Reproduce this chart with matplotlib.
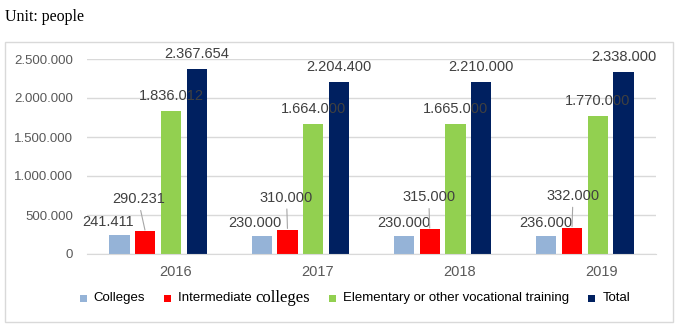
import numpy as np
import matplotlib.pyplot as plt
from matplotlib.patches import Rectangle

plt.rcParams['font.family'] = ['Liberation Sans', 'DejaVu Sans']

# ---------- data ----------
years = ['2016', '2017', '2018', '2019']
colleges = [241411, 230000, 230000, 236000]
intermediate = [290231, 310000, 315000, 332000]
elementary = [1836012, 1664000, 1665000, 1770000]
total = [2367654, 2204400, 2210000, 2338000]
yticks = [0, 500000, 1000000, 1500000, 2000000, 2500000]

series = [colleges, intermediate, elementary, total]
colors = ['#95B3D7', '#FF0000', '#92D050', '#002060']

# label offsets (pixels) -- layout only
col_dx = [-11, -7, 0, 0]
red_dx = [-7, -1, -1, 1]


def fmt(v):
    return f'{v:,}'.replace(',', '.')


W, H = 681, 327
fig = plt.figure(figsize=(W / 100, H / 100), dpi=100)
ax = fig.add_axes([87 / W, 1 - 254 / H, (656 - 87) / W, (254 - 59) / H])

x = np.arange(len(years))
step, width = 0.181, 0.141
bars = []
for i, (vals, c) in enumerate(zip(series, colors)):
    b = ax.bar(x + (i - 1.5) * step, vals, width=width, color=c, zorder=3)
    bars.append(b)

ax.set_xlim(-0.5, 3.5)
ax.set_ylim(0, 2500000)
ax.set_yticks(yticks)
ax.set_yticklabels([fmt(v) for v in yticks])
ax.set_xticks(x + 0.12)
ax.set_xticklabels(years)
ax.tick_params(axis='y', length=0, pad=10, labelsize=9.5, labelcolor='#595959')
ax.tick_params(axis='x', length=0, pad=8, labelsize=10.5, labelcolor='#595959')
ax.grid(axis='y', color='#d9d9d9', linewidth=1, zorder=0)
for s in ['top', 'right', 'left']:
    ax.spines[s].set_visible(False)
ax.spines['bottom'].set_color('#d9d9d9')
ax.spines['bottom'].set_zorder(4)

lab_kw = dict(textcoords='offset pixels', ha='center', va='center',
              fontsize=10.5, color='#404040', annotation_clip=False, zorder=5)
for j in range(len(years)):
    # colleges
    r = bars[0][j]
    ax.annotate(fmt(colleges[j]), (r.get_x() + r.get_width() / 2, r.get_height()),
                xytext=(col_dx[j], 13), **lab_kw)
    # intermediate with leader line
    r = bars[1][j]
    ax.annotate(fmt(intermediate[j]), (r.get_x() + r.get_width() / 2, r.get_height()),
                xytext=(red_dx[j], 32),
                arrowprops=dict(arrowstyle='-', color='#a6a6a6', lw=0.8,
                                shrinkA=1, shrinkB=1), **lab_kw)
    # elementary and total
    for k, vals in ((2, elementary), (3, total)):
        r = bars[k][j]
        ax.annotate(fmt(vals[j]), (r.get_x() + r.get_width() / 2, r.get_height()),
                    xytext=(0, 15), **lab_kw)

# chart frame
fig.patches.append(Rectangle((5 / W, 1 - 322 / H), (673 - 5) / W, (322 - 42) / H,
                             transform=fig.transFigure, fill=False,
                             edgecolor='#d9d9d9', linewidth=1))

fig.text(5 / W, 1 - 17 / H, 'Unit: people', family='Liberation Serif',
         fontsize=11.5, va='center', ha='left')

# ---------- legend (manual, mixed fonts) ----------
sans = ['Liberation Sans', 'DejaVu Sans']
serif = ['Liberation Serif']
items = [
    [('Colleges', sans, 9.5)],
    [('Intermediate ', sans, 9.5), ('colleges', serif, 12)],
    [('Elementary or other vocational training', sans, 9.5)],
    [('Total', sans, 9.5)],
]

fig.canvas.draw()
renderer = fig.canvas.get_renderer()
ly = 298
sq, gap_sq, gap_item = 7, 7, 19
artists = []
cx = 0
for c, parts in zip(colors, items):
    rect = Rectangle((0, 0), sq / W, sq / H, transform=fig.transFigure,
                     facecolor=c, edgecolor='none')
    fig.patches.append(rect)
    artists.append(('r', rect, cx))
    cx += sq + gap_sq
    for txt, fam, fs in parts:
        t = fig.text(0, 1 - ly / H, txt, family=fam, fontsize=fs,
                     va='center', ha='left', color='#000000')
        w = t.get_window_extent(renderer).width
        artists.append(('t', t, cx))
        cx += w
    cx += gap_item
total_w = cx - gap_item
x0 = 355 - total_w / 2
for kind, a, off in artists:
    if kind == 'r':
        a.set_xy(((x0 + off) / W, 1 - (ly + sq / 2) / H))
    else:
        a.set_x((x0 + off) / W)

fig.savefig('out.png', dpi=100)
